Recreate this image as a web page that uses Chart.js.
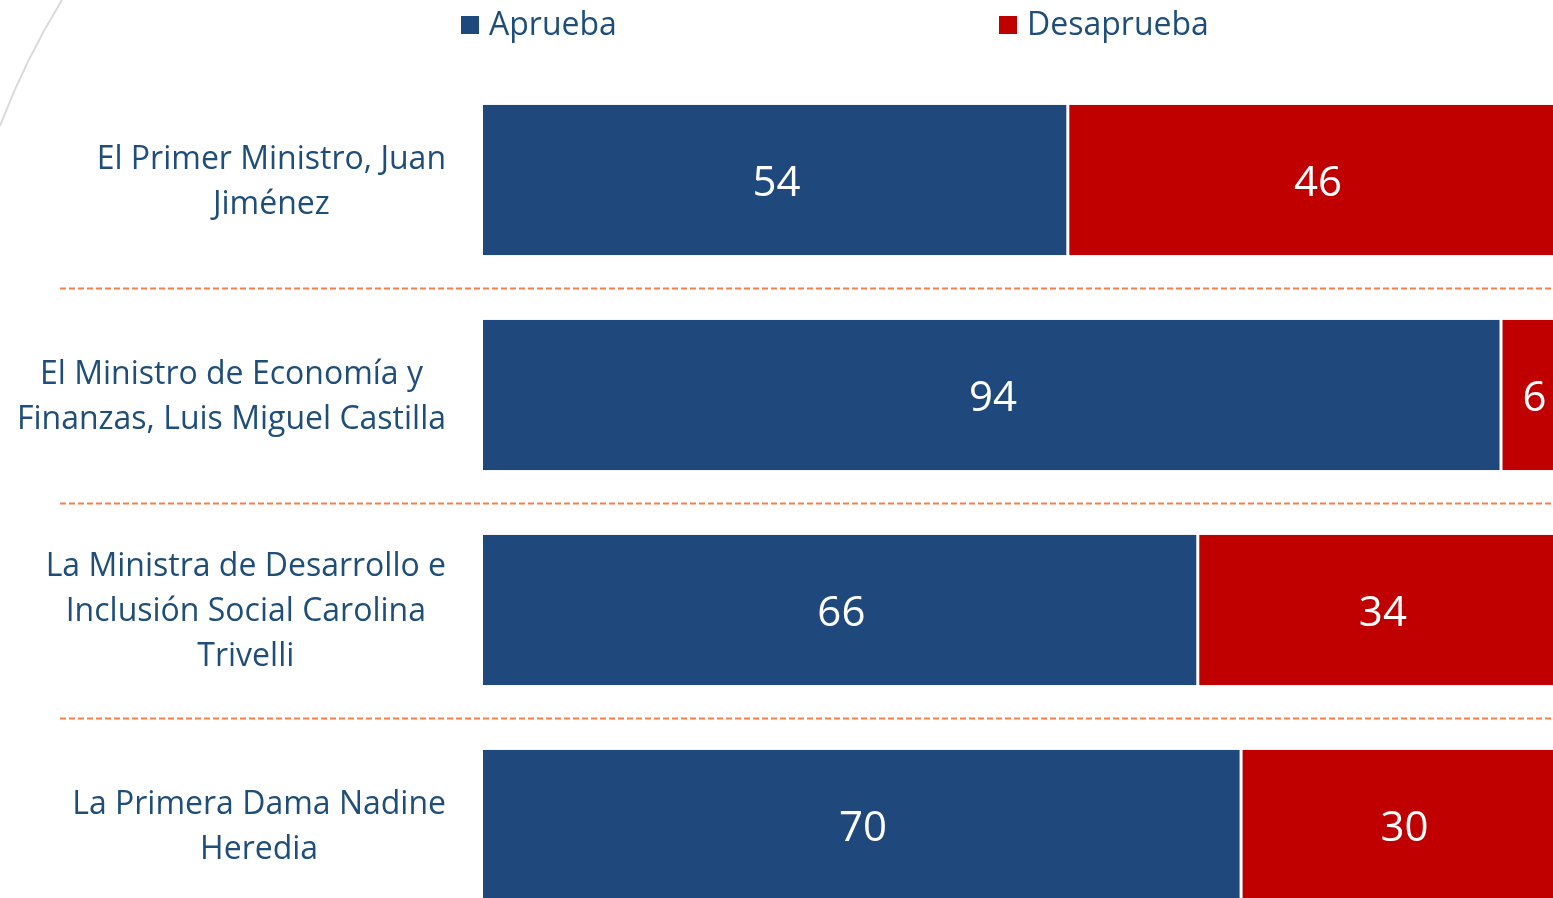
<!DOCTYPE html>
<html>
<head>
<meta charset="utf-8">
<script src="https://cdn.jsdelivr.net/npm/chart.js@4"></script>
<style>
  html, body { margin: 0; padding: 0; background: #fff; overflow: hidden; }
  #wrap { width: 1553px; height: 898px; overflow: hidden; }
</style>
</head>
<body>
<div id="wrap"><canvas id="chart" width="1553" height="933"></canvas></div>
<script>
// data
var categories = [
  ["El Primer Ministro, Juan", "Jiménez"],
  ["El Ministro de Economía y", "Finanzas, Luis Miguel Castilla"],
  ["La Ministra de Desarrollo e", "Inclusión Social Carolina", "Trivelli"],
  ["La Primera Dama Nadine", "Heredia"]
];
var seriesNames = ["Aprueba", "Desaprueba"];
var aprueba = [54, 94, 66, 70];
var desaprueba = [46, 6, 34, 30];

var BLUE = "#1F497D";
var RED = "#C00000";
var TEXT = "#1F4E79";
var FONT = "'Open Sans', sans-serif";

// grey decorative stroke in the corner + dashed separators
var backdrop = {
  id: "backdrop",
  beforeDatasetsDraw: function(chart){
    var ctx = chart.ctx;
    var ys = chart.scales.y;
    ctx.save();
    ctx.strokeStyle = "#DADADA";
    ctx.lineWidth = 2;
    ctx.beginPath();
    ctx.moveTo(62, 0);
    ctx.quadraticCurveTo(25, 60, 0, 126);
    ctx.stroke();

    ctx.strokeStyle = "#F4804C";
    ctx.lineWidth = 2;
    ctx.setLineDash([6, 3]);
    for (var i = 0; i < categories.length - 1; i++) {
      var y = Math.round((ys.getPixelForValue(i) + ys.getPixelForValue(i + 1)) / 2) + 0.5;
      ctx.beginPath();
      ctx.moveTo(60, y);
      ctx.lineTo(1553, y);
      ctx.stroke();
    }
    ctx.restore();
  }
};

// category names: lines centred on each other, block right-aligned
var sideLabels = {
  id: "sideLabels",
  afterDraw: function(chart){
    var ctx = chart.ctx;
    var ys = chart.scales.y;
    ctx.save();
    ctx.font = "32px " + FONT;
    ctx.fillStyle = TEXT;
    ctx.textAlign = "center";
    ctx.textBaseline = "middle";
    categories.forEach(function(lines, i){
      var w = 0;
      lines.forEach(function(l){ w = Math.max(w, ctx.measureText(l).width); });
      var cx = 446 - w / 2;
      var cy = ys.getPixelForValue(i) + 2;
      lines.forEach(function(l, j){
        ctx.fillText(l, cx, cy + (j - (lines.length - 1) / 2) * 45);
      });
    });
    ctx.restore();
  }
};

// values inside the bars
var barValues = {
  id: "barValues",
  afterDatasetsDraw: function(chart){
    var ctx = chart.ctx;
    ctx.save();
    ctx.font = "42px " + FONT;
    ctx.fillStyle = "#fff";
    ctx.textAlign = "center";
    ctx.textBaseline = "middle";
    chart.data.datasets.forEach(function(ds, d){
      chart.getDatasetMeta(d).data.forEach(function(bar, i){
        var x = (bar.x + bar.base) / 2;
        ctx.fillText(String(ds.data[i]), x + 1, bar.y + 4);
      });
    });
    ctx.restore();
  }
};

// legend drawn by hand so the two entries sit far apart
var topLegend = {
  id: "topLegend",
  afterDraw: function(chart){
    var ctx = chart.ctx;
    var xs = [461, 999];
    ctx.save();
    ctx.font = "32px " + FONT;
    ctx.textBaseline = "middle";
    ctx.textAlign = "left";
    chart.data.datasets.forEach(function(ds, d){
      ctx.fillStyle = ds.backgroundColor;
      ctx.fillRect(xs[d], 16, 18, 18);
      ctx.fillStyle = TEXT;
      ctx.fillText(ds.label, xs[d] + 28, 26);
    });
    ctx.restore();
  }
};

new Chart(document.getElementById("chart").getContext("2d"), {
  type: "bar",
  data: {
    labels: categories,
    datasets: [
      {
        label: seriesNames[0],
        data: aprueba,
        backgroundColor: BLUE,
        borderColor: "#fff",
        borderWidth: {left: 0, right: 1.5, top: 0, bottom: 0},
        borderSkipped: false,
        categoryPercentage: 0.7,
        barPercentage: 1
      },
      {
        label: seriesNames[1],
        data: desaprueba,
        backgroundColor: RED,
        borderColor: "#fff",
        borderWidth: {left: 1.5, right: 0, top: 0, bottom: 0},
        borderSkipped: false,
        categoryPercentage: 0.7,
        barPercentage: 1
      }
    ]
  },
  options: {
    indexAxis: "y",
    responsive: false,
    devicePixelRatio: 1,
    animation: false,
    layout: { padding: { left: 483, top: 72.5, right: 0, bottom: 0.5 } },
    scales: {
      x: { stacked: true, min: 0, max: 98.8, display: false },
      y: { stacked: true, display: false }
    },
    plugins: {
      legend: { display: false },
      tooltip: { enabled: false }
    }
  },
  plugins: [backdrop, sideLabels, barValues, topLegend]
});
</script>
</body>
</html>
